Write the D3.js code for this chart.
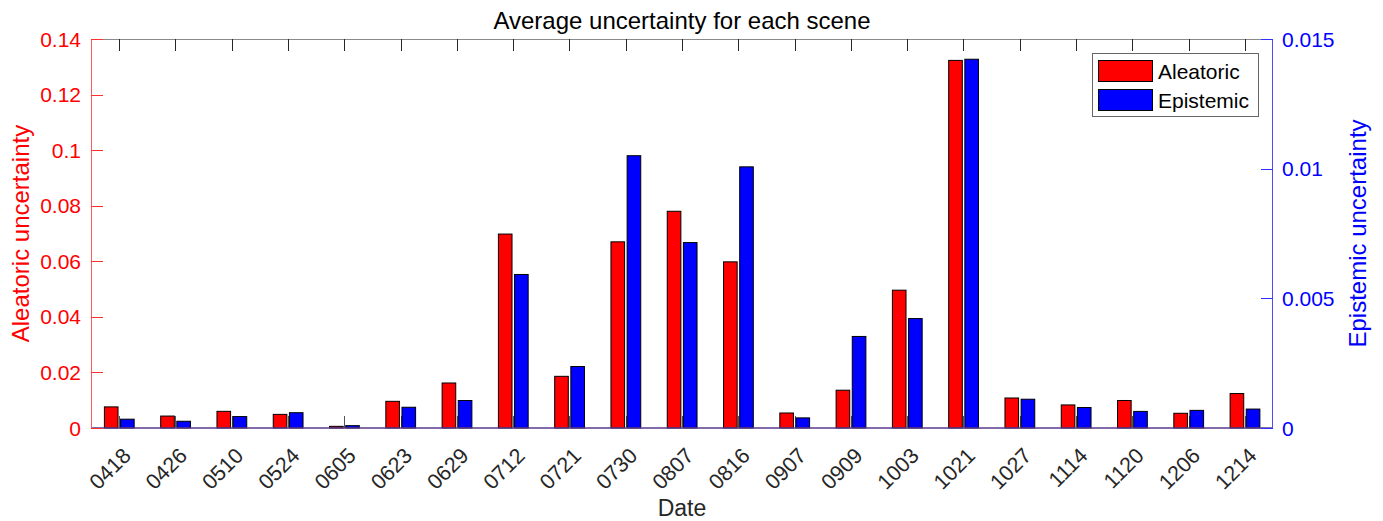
<!DOCTYPE html>
<html>
<head>
<meta charset="utf-8">
<script src="https://cdn.jsdelivr.net/npm/d3@7/dist/d3.min.js"></script>
<style>
  html, body { margin: 0; padding: 0; background: #fff; }
  svg { display: block; font-family: "Liberation Sans", Arial, Helvetica, sans-serif; }
</style>
</head>
<body>
<svg id="chart" width="1383" height="521"></svg>
<script>
// Scene dates and per-scene average uncertainties
const dates = ["0418","0426","0510","0524","0605","0623","0629","0712","0721","0730","0807",
               "0816","0907","0909","1003","1021","1027","1114","1120","1206","1214"];
const aleatoric = [0.0076, 0.0043, 0.0060, 0.0049, 0.0006, 0.0096, 0.0162, 0.0698, 0.0186, 0.0670, 0.0780,
                   0.0598, 0.0054, 0.0136, 0.0496, 0.1323, 0.0108, 0.0083, 0.0099, 0.0053, 0.0124];
const epistemic = [0.00034, 0.00026, 0.00044, 0.00059, 0.00009, 0.00080, 0.00106, 0.00592, 0.00237, 0.01050, 0.00715,
                   0.01007, 0.00039, 0.00353, 0.00422, 0.01422, 0.00111, 0.00079, 0.00064, 0.00068, 0.00073];
const leftTicks = [0, 0.02, 0.04, 0.06, 0.08, 0.1, 0.12, 0.14];
const rightTicks = [0, 0.005, 0.01, 0.015];

const svg = d3.select("#chart");
const X0 = 91, X1 = 1273, Y0 = 39, Y1 = 428;
const RED = "#ff0000", BLUE = "#0000ff";

const x = d3.scaleBand().domain(dates).range([X0, X1]).padding(0);
const yL = d3.scaleLinear().domain([0, 0.14]).range([Y1, Y0]);
const yR = d3.scaleLinear().domain([0, 0.015]).range([Y1, Y0]);
const bw = x.bandwidth();
const center = d => x(d) + bw / 2;
const barW = bw * 0.242;

// frame: top edge
svg.append("line").attr("x1", X0).attr("x2", X1).attr("y1", Y0 + 0.5).attr("y2", Y0 + 0.5)
  .attr("stroke", "#8a8a8a").attr("stroke-width", 1);

// x tick marks (bottom and top, pointing inward)
const xt = svg.append("g");
dates.forEach(d => {
  const cx = Math.round(center(d)) + 0.5;
  xt.append("line").attr("x1", cx).attr("x2", cx).attr("y1", Y1).attr("y2", Y1 - 12)
    .attr("stroke", "#555").attr("stroke-width", 1);
  xt.append("line").attr("x1", cx).attr("x2", cx).attr("y1", Y0).attr("y2", Y0 + 12)
    .attr("stroke", "#262626").attr("stroke-width", 1);
});

// bars
svg.append("g").selectAll("rect").data(dates).join("rect")
  .attr("x", (d) => center(d) - bw * 0.262)
  .attr("y", (d, i) => yL(aleatoric[i]))
  .attr("width", barW)
  .attr("height", (d, i) => Y1 - yL(aleatoric[i]))
  .attr("fill", RED).attr("stroke", "#000").attr("stroke-width", 1);

svg.append("g").selectAll("rect").data(dates).join("rect")
  .attr("x", (d) => center(d) + bw * 0.025)
  .attr("y", (d, i) => yR(epistemic[i]))
  .attr("width", barW)
  .attr("height", (d, i) => Y1 - yR(epistemic[i]))
  .attr("fill", BLUE).attr("stroke", "#000").attr("stroke-width", 1);

// baseline
svg.append("line").attr("x1", X0).attr("x2", X1).attr("y1", Y1).attr("y2", Y1)
  .attr("stroke", "#5a3a8c").attr("stroke-width", 1.6);

// left axis (red)
svg.append("line").attr("x1", X0 + 0.5).attr("x2", X0 + 0.5).attr("y1", Y0).attr("y2", Y1)
  .attr("stroke", "#ff5a5a").attr("stroke-width", 1);
const lg = svg.append("g");
leftTicks.forEach(v => {
  const yy = Math.round(yL(v)) + 0.5;
  lg.append("line").attr("x1", X0).attr("x2", X0 + 12).attr("y1", yy).attr("y2", yy)
    .attr("stroke", "#ff3030").attr("stroke-width", 1);
  lg.append("text").attr("x", X0 - 10).attr("y", yL(v)).attr("dy", "0.36em")
    .attr("text-anchor", "end").attr("fill", RED).attr("font-size", 21).text(String(v));
});

// right axis (blue)
svg.append("line").attr("x1", X1 - 0.5).attr("x2", X1 - 0.5).attr("y1", Y0).attr("y2", Y1)
  .attr("stroke", "#4d4dff").attr("stroke-width", 1);
const rg = svg.append("g");
rightTicks.forEach(v => {
  const yy = Math.round(yR(v)) + 0.5;
  rg.append("line").attr("x1", X1 - 12).attr("x2", X1).attr("y1", yy).attr("y2", yy)
    .attr("stroke", "#3030ff").attr("stroke-width", 1);
  rg.append("text").attr("x", X1 + 9).attr("y", yR(v)).attr("dy", "0.36em")
    .attr("text-anchor", "start").attr("fill", BLUE).attr("font-size", 21).text(String(v));
});

// rotated date labels
svg.append("g").selectAll("text").data(dates).join("text")
  .attr("transform", d => `translate(${center(d) + 13},${457}) rotate(-45)`)
  .attr("text-anchor", "end").attr("fill", "#262626").attr("font-size", 21.5)
  .text(d => d);

// titles
svg.append("text").attr("x", (X0 + X1) / 2).attr("y", 29).attr("text-anchor", "middle")
  .attr("font-size", 24).attr("fill", "#000").text("Average uncertainty for each scene");
svg.append("text").attr("x", (X0 + X1) / 2).attr("y", 516).attr("text-anchor", "middle")
  .attr("font-size", 23).attr("fill", "#262626").text("Date");
svg.append("text").attr("transform", `translate(29,${(Y0 + Y1) / 2}) rotate(-90)`)
  .attr("text-anchor", "middle").attr("font-size", 24).attr("fill", RED).text("Aleatoric uncertainty");
svg.append("text").attr("transform", `translate(1366,${(Y0 + Y1) / 2}) rotate(-90)`)
  .attr("text-anchor", "middle").attr("font-size", 24).attr("fill", BLUE).text("Epistemic uncertainty");

// legend
const leg = svg.append("g");
leg.append("rect").attr("x", 1092.5).attr("y", 53.5).attr("width", 166).attr("height", 63)
  .attr("fill", "#fff").attr("stroke", "#666").attr("stroke-width", 1);
[["Aleatoric", RED, 60], ["Epistemic", BLUE, 89]].forEach(([name, col, yy]) => {
  leg.append("rect").attr("x", 1098.5).attr("y", yy + 0.5).attr("width", 54).attr("height", 21)
    .attr("fill", col).attr("stroke", "#000").attr("stroke-width", 1);
  leg.append("text").attr("x", 1158).attr("y", yy + 11).attr("dy", "0.36em")
    .attr("font-size", 21).attr("fill", "#000").text(name);
});
</script>
</body>
</html>
